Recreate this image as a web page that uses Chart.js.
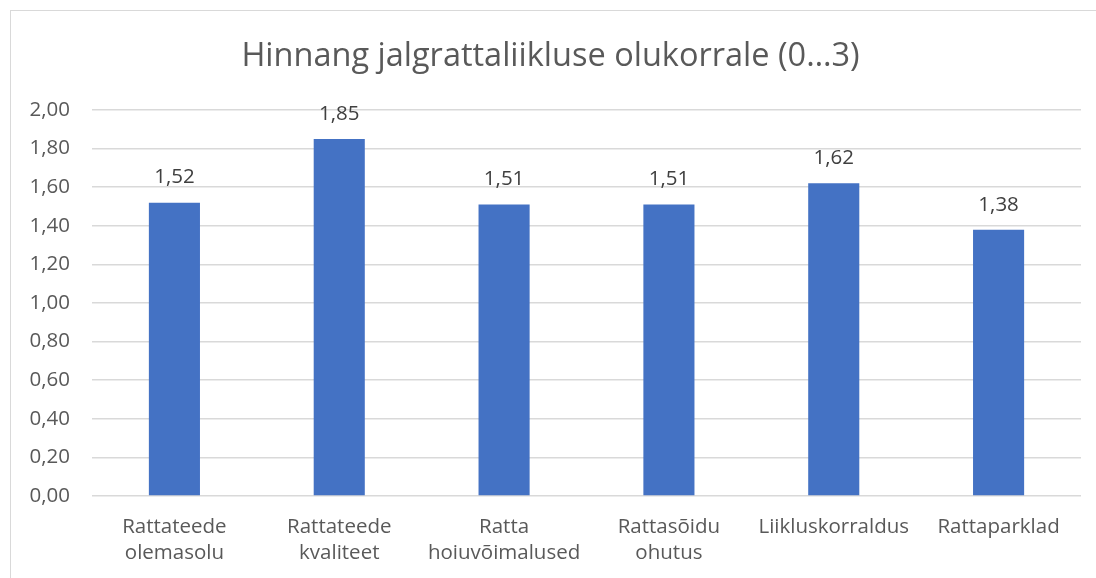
<!DOCTYPE html>
<html lang="et">
<head>
<meta charset="UTF-8">
<title>Hinnang jalgrattaliikluse olukorrale (0…3)</title>
<script src="https://cdn.jsdelivr.net/npm/chart.js"></script>
<style>
body {
margin: 0;
background: #ffffff;
font-family: 'Open Sans', sans-serif;
}
.frame {
position: absolute;
left: 10px;
top: 10px;
width: 1100px;
height: 600px;
border: 1px solid #d9d9d9;
pointer-events: none;
}
.chart-box {
position: relative;
width: 1096px;
height: 578px;
}
</style>
</head>
<body>
<div class="chart-box">
<canvas id="ratingChart"></canvas>
</div>
<div class="frame"></div>

<script>
// Categories (multi-line labels like in the original)
const categories = [
  ["Rattateede", "olemasolu"],
  ["Rattateede", "kvaliteet"],
  ["Ratta", "hoiuvõimalused"],
  ["Rattasõidu", "ohutus"],
  "Liikluskorraldus",
  "Rattaparklad"
];

// Average score per category (scale 0...3)
const scores = [1.52, 1.85, 1.51, 1.51, 1.62, 1.38];

// y axis range
const yMin = 0;
const yMax = 2;
const yStep = 0.2;

const fmt = v => v.toFixed(2).replace('.', ',');

// simple plugin to write the value above each bar
const valueLabels = {
  id: 'valueLabels',
  afterDatasetsDraw(chart) {
    const ctx = chart.ctx;
    const meta = chart.getDatasetMeta(0);
    ctx.save();
    ctx.font = '20.5px "Open Sans"';
    ctx.fillStyle = '#404040';
    ctx.textAlign = 'center';
    ctx.textBaseline = 'middle';
    meta.data.forEach((bar, i) => {
      ctx.fillText(fmt(scores[i]), bar.x, bar.y - 25);
    });
    ctx.restore();
  }
};

const ctx = document.getElementById('ratingChart').getContext('2d');
new Chart(ctx, {
  type: 'bar',
  data: {
    labels: categories,
    datasets: [{
      label: 'Hinnang',
      data: scores,
      backgroundColor: '#4472C4',
      borderWidth: 0,
      barPercentage: 0.31,
      categoryPercentage: 1
    }]
  },
  options: {
    responsive: true,
    maintainAspectRatio: false,
    animation: false,
    layout: {
      padding: { left: 20, right: 15, top: 0, bottom: 0 }
    },
    plugins: {
      legend: { display: false },
      tooltip: { enabled: false },
      title: {
        display: true,
        text: 'Hinnang jalgrattaliikluse olukorrale (0…3)',
        color: '#595959',
        font: { family: 'Open Sans', size: 32.5, weight: 'normal', lineHeight: 1.2 },
        padding: { top: 37, bottom: 34 }
      }
    },
    scales: {
      x: {
        grid: { display: false, drawTicks: false },
        border: { display: false },
        ticks: {
          color: '#595959',
          padding: 18,
          maxRotation: 0,
          autoSkip: false,
          font: { family: 'Open Sans', size: 20.5, lineHeight: 1.27 }
        },
        afterFit(scale) { scale.height = 82; }
      },
      y: {
        min: yMin,
        max: yMax,
        grid: { color: '#d9d9d9', lineWidth: 1.5, drawTicks: false },
        border: { display: false },
        ticks: {
          stepSize: yStep,
          color: '#595959',
          padding: 22,
          font: { family: 'Open Sans', size: 20.5 },
          callback: v => fmt(v)
        },
        afterFit(scale) { scale.width = 72; }
      }
    }
  },
  plugins: [valueLabels]
});
</script>
</body>
</html>
